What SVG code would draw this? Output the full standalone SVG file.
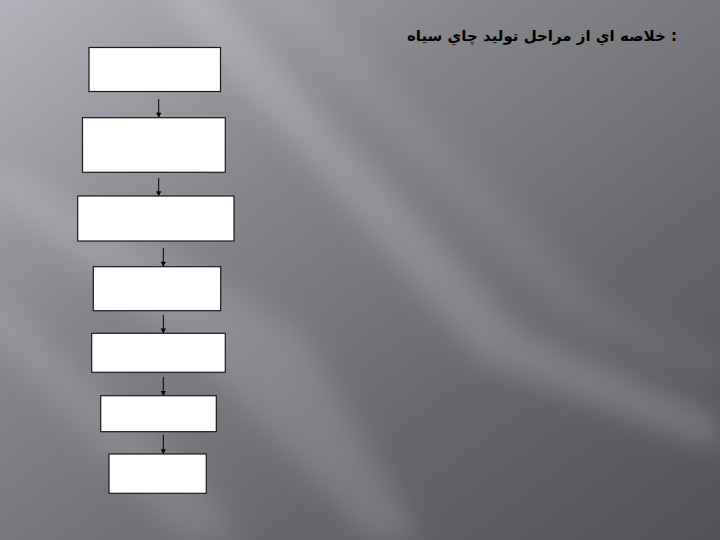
<svg xmlns="http://www.w3.org/2000/svg" width="720" height="540" viewBox="0 0 720 540">
<defs>
<style>
.box{fill:#ffffff;stroke:#1a1a1a;stroke-width:1.2}
.conn{stroke:#000;stroke-width:1;fill:none;marker-end:url(#ah)}
.title{font-family:"DejaVu Sans","Noto Sans",sans-serif;font-weight:bold;font-size:15px;fill:#000}
</style>
<linearGradient id="bg" x1="0" y1="0" x2="1" y2="1">
<stop offset="0" stop-color="#b2b2ba"/>
<stop offset="0.35" stop-color="#85858c"/>
<stop offset="0.7" stop-color="#65656b"/>
<stop offset="1" stop-color="#525258"/>
</linearGradient>
<filter id="blur" x="-50%" y="-50%" width="200%" height="200%"><feGaussianBlur stdDeviation="14"/></filter>
<marker id="ah" viewBox="0 0 8 10" refX="8" refY="5" markerWidth="6" markerHeight="6" orient="auto" markerUnits="userSpaceOnUse">
<path d="M0,0.5 L8,5 L0,9.5 z" fill="#000"/>
</marker>
</defs>
<rect width="720" height="540" fill="url(#bg)"/>
<g filter="url(#blur)" fill="#ffffff">
<polygon points="150,-20 200,-20 520,330 720,420 720,450 480,360" opacity="0.18"/>
<polygon points="-20,180 10,170 300,330 420,540 370,540 220,380" opacity="0.14"/>
<polygon points="-20,320 0,300 200,480 240,540 180,540" opacity="0.12"/>
<polygon points="250,-20 290,-20 600,300 720,360 720,380 560,320" opacity="0.08"/>
</g>
<text class="title" x="677" y="41" text-anchor="end">خلاصه اي از مراحل توليد چاي سياه :</text>
<g id="connectors">
<line class="conn" x1="158.7" y1="99" x2="158.7" y2="117.5"/>
<line class="conn" x1="158.7" y1="178" x2="158.7" y2="196"/>
<line class="conn" x1="163.3" y1="248" x2="163.3" y2="266.5"/>
<line class="conn" x1="163.3" y1="315" x2="163.3" y2="333.3"/>
<line class="conn" x1="163.3" y1="377" x2="163.3" y2="395.7"/>
<line class="conn" x1="163.3" y1="435" x2="163.3" y2="454"/>
</g>
<g id="node1"><rect class="box" x="89" y="47.5" width="131.5" height="44"/></g>
<g id="node2"><rect class="box" x="82.5" y="117.7" width="142.8" height="54.6"/></g>
<g id="node3"><rect class="box" x="77.7" y="196" width="156.3" height="45"/></g>
<g id="node4"><rect class="box" x="93.3" y="266.7" width="127.4" height="44"/></g>
<g id="node5"><rect class="box" x="91.7" y="333.3" width="133.6" height="39"/></g>
<g id="node6"><rect class="box" x="100.7" y="395.7" width="115.6" height="36"/></g>
<g id="node7"><rect class="box" x="109" y="454" width="97.3" height="39.3"/></g>
</svg>
